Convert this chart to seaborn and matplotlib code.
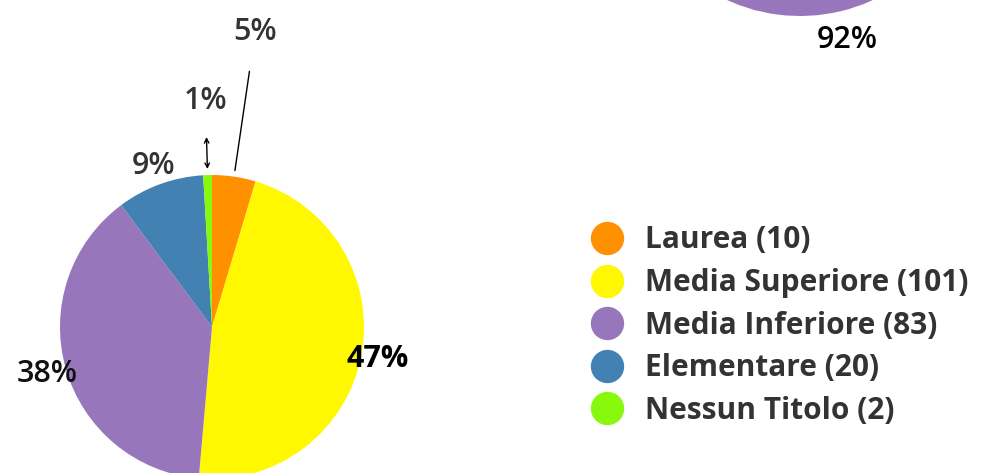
import numpy as np
import matplotlib
matplotlib.use('Agg')
import matplotlib.pyplot as plt
import seaborn as sns
from matplotlib.lines import Line2D

sns.set_theme(style="white")
plt.rcParams['font.family'] = ['Open Sans', 'DejaVu Sans']

# ---- dati: titolo di studio ----
categorie = ['Laurea', 'Media Superiore', 'Media Inferiore', 'Elementare', 'Nessun Titolo']
conteggi = [10, 101, 83, 20, 2]
colori = ['#FF9000', '#FFF800', '#9876BC', '#4281B1', '#88F80C']
# distanza delle etichette dal centro (in raggi)
dist_etichette = [1.96, 1.11, 1.13, 1.13, 1.49]

# ---- dati: secondo grafico (solo parte inferiore visibile) ----
valori_top = [92, 8]
colori_top = ['#9876BC', '#FF9000']

fig = plt.figure(figsize=(10.01, 4.73), dpi=100)

# ===== torta principale =====
R_PX = 152
cx, cy = 212, 327
ax = fig.add_axes([(cx - R_PX) / 1001, (473 - cy - R_PX) / 473, 2 * R_PX / 1001, 2 * R_PX / 473])
wedges, _ = ax.pie(conteggi, colors=colori, startangle=90, counterclock=False,
                   wedgeprops=dict(linewidth=0))
ax.set_xlim(-1, 1)
ax.set_ylim(-1, 1)
ax.set_aspect('auto')
ax.axis('off')

totale = sum(conteggi)
for i, (w, d) in enumerate(zip(wedges, dist_etichette)):
    ang = np.deg2rad((w.theta1 + w.theta2) / 2)
    x, y = d * np.cos(ang), d * np.sin(ang)
    pct = f'{round(conteggi[i] / totale * 100):.0f}%'
    if i == 1:
        ax.text(x, y, pct, ha='center', va='center', fontsize=22, fontweight='bold', color='black')
    elif i == 2:
        ax.text(x, y, pct, ha='center', va='center', fontsize=22, fontweight='semibold', color='#111111')
    else:
        ax.text(x, y, pct, ha='center', va='center', fontsize=22, fontweight='semibold', color='#333333')

# linea guida per il 5%
w = wedges[0]
ang = np.deg2rad((w.theta1 + w.theta2) / 2)
ax.plot([1.04 * np.cos(ang), 1.70 * np.cos(ang)],
        [1.04 * np.sin(ang), 1.70 * np.sin(ang)], color='black', lw=1, clip_on=False)
# freccia per l'1%
w = wedges[4]
ang = np.deg2rad((w.theta1 + w.theta2) / 2)
ax.annotate('', xy=(1.04 * np.cos(ang), 1.04 * np.sin(ang)),
            xytext=(1.25 * np.cos(ang), 1.25 * np.sin(ang)),
            arrowprops=dict(arrowstyle='<->', color='black', lw=1, mutation_scale=8,
                            shrinkA=0, shrinkB=0),
            annotation_clip=False)

# ===== seconda torta (tagliata in alto) =====
R2 = 175
cx2, cy2 = 800, -159
ax2 = fig.add_axes([(cx2 - R2) / 1001, (473 - cy2 - R2) / 473, 2 * R2 / 1001, 2 * R2 / 473])
w2, _ = ax2.pie(valori_top, colors=colori_top, startangle=89, counterclock=False,
                wedgeprops=dict(linewidth=0))
ax2.set_xlim(-1, 1)
ax2.set_ylim(-1, 1)
ax2.set_aspect('auto')
ax2.axis('off')
ang = np.deg2rad((w2[0].theta1 + w2[0].theta2) / 2)
ax2.text(1.17 * np.cos(ang), 1.17 * np.sin(ang), f'{valori_top[0]}%',
         ha='center', va='center', fontsize=22, fontweight='semibold', color='black', clip_on=False)

# ===== legenda =====
handles = [Line2D([], [], marker='o', linestyle='', markersize=23,
                  markerfacecolor=c, markeredgecolor=c) for c in colori]
etichette = [f'{c} ({n})' for c, n in zip(categorie, conteggi)]
leg = fig.legend(handles, etichette, loc='center left', bbox_to_anchor=(593 / 1001, 1 - 325.5 / 473),
                 frameon=False, fontsize=21.5, handlelength=0.93, handletextpad=0.81,
                 labelspacing=0.42, borderpad=0, borderaxespad=0)
for t in leg.get_texts():
    t.set_fontweight('bold')
    t.set_color('#333333')

plt.savefig('out.png', dpi=100)
